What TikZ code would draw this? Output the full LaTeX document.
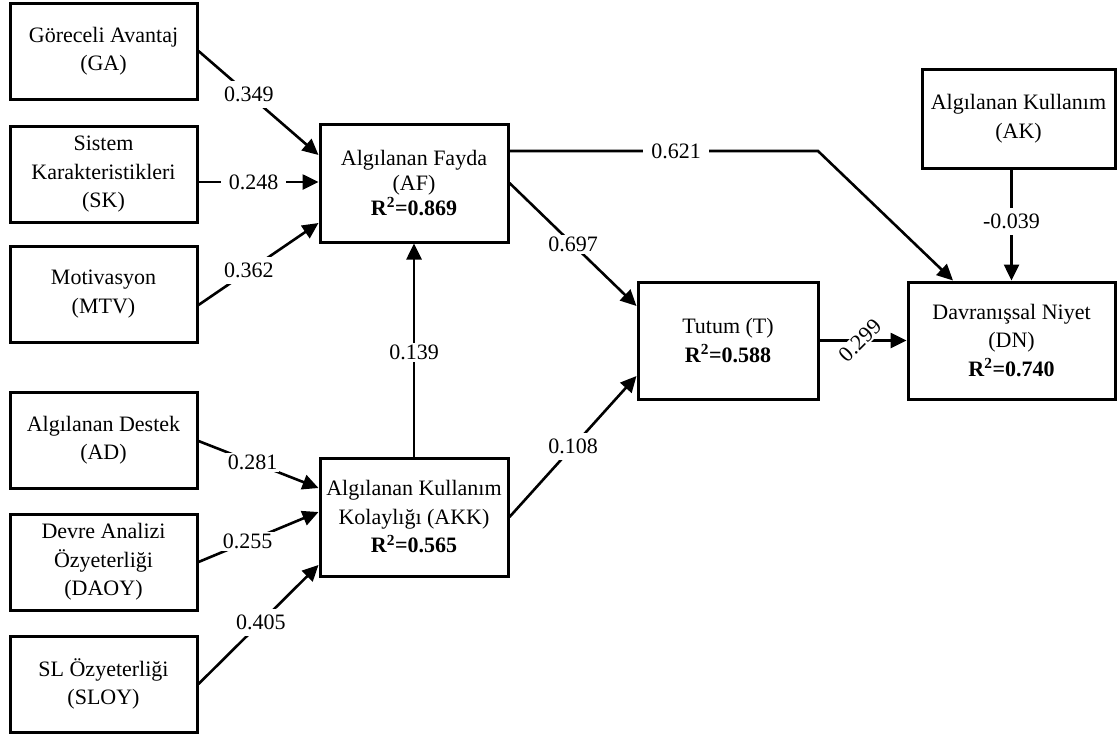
\documentclass[tikz,border=0pt]{standalone}
\usepackage{fontspec}
\setmainfont{Liberation Serif}
\usetikzlibrary{arrows.meta,calc}
\newcommand{\Rsq}[1]{\textbf{R\textsuperscript{2}=#1}}
\tikzset{box/.style={draw,line width=3pt,align=center,inner sep=0pt,font=\fontsize{22}{28.5}\selectfont},
 conn/.style={line width=2.6pt,-{Triangle[length=16,width=15]}},
 wlab/.style={fill=white,inner xsep=8pt,inner ysep=6pt,font=\fontsize{22}{24}\selectfont}}
\begin{document}
\begin{tikzpicture}[x=1pt,y=-1pt]
\useasboundingbox(0,0)rectangle(1118,736);
% sources on the left
\node[box,minimum width=187,minimum height=96](GA)at(103.5,51){Göreceli Avantaj\\(GA)};
\node[box,minimum width=187,minimum height=96](SK)at(103.5,174.5){Sistem\\Karakteristikleri\\(SK)};
\node[box,minimum width=187,minimum height=96](MTV)at(103.5,294){Motivasyon\\(MTV)};
\node[box,minimum width=187,minimum height=96](AD)at(103.5,440){Algılanan Destek\\(AD)};
\node[box,minimum width=187,minimum height=96](DAOY)at(103.5,562){Devre Analizi\\Özyeterliği\\(DAOY)};
\node[box,minimum width=187,minimum height=96](SLOY)at(103.5,684){SL Özyeterliği\\(SLOY)};
% middle and right
\node[box,minimum width=188,minimum height=118,font=\fontsize{22}{25}\selectfont](AF)at(414,183){Algılanan Fayda\\(AF)\\\Rsq{0.869}};
\node[box,minimum width=188,minimum height=118](AKK)at(414,517){Algılanan Kullanım\\Kolaylığı (AKK)\\\Rsq{0.565}};
\node[box,minimum width=180,minimum height=117](T)at(728,340.5){Tutum (T)\\\Rsq{0.588}};
\node[box,minimum width=207,minimum height=117](DN)at(1011.5,340.5){Davranışsal Niyet\\(DN)\\\Rsq{0.740}};
\node[box,minimum width=193,minimum height=99](AK)at(1018.5,118.5){Algılanan Kullanım\\(AK)};
\coordinate(bend)at(818,151);
% paths
\draw[conn](GA.east)--node[wlab,pos=.42]{0.349}([yshift=28]AF.west);
\draw[conn]([yshift=-7.5]SK.east)--node[wlab,pos=.46]{0.248}([yshift=1]AF.west);
\draw[conn]([yshift=-11]MTV.east)--node[wlab,pos=.42]{0.362}([yshift=-40]AF.west);
\draw[conn]([yshift=-1]AD.east)--node[wlab,pos=.45,inner ysep=2pt,inner xsep=2pt]{0.281}([yshift=29]AKK.west);
\draw[conn](DAOY.east)--node[wlab,pos=.41,inner ysep=2pt,inner xsep=2pt]{0.255}([yshift=5]AKK.west);
\draw[conn](SLOY.east)--node[wlab,pos=.52]{0.405}([yshift=-48]AKK.west);
\draw[conn](AKK.north)--node[wlab,pos=.49,inner xsep=2pt,inner ysep=2pt]{0.139}(AF.south);
\draw[conn](AF.east)--node[wlab,pos=.5,inner xsep=2pt,inner ysep=2pt]{0.697}([yshift=34.5]T.west);
\draw[conn](AKK.east)--node[wlab,pos=.5]{0.108}([yshift=-35.5]T.west);
\draw[conn]([yshift=32]AF.east)--node[wlab,pos=.54]{0.621}(bend)--([xshift=-58.5]DN.north);
\draw[conn](DN.north|-AK.south)--node[wlab,pos=.47]{-0.039}(DN.north);
\draw[conn](T.east)--node[wlab,pos=.47,rotate=45,inner xsep=3pt,inner ysep=1pt]{0.299}(DN.west);
\end{tikzpicture}
\end{document}
